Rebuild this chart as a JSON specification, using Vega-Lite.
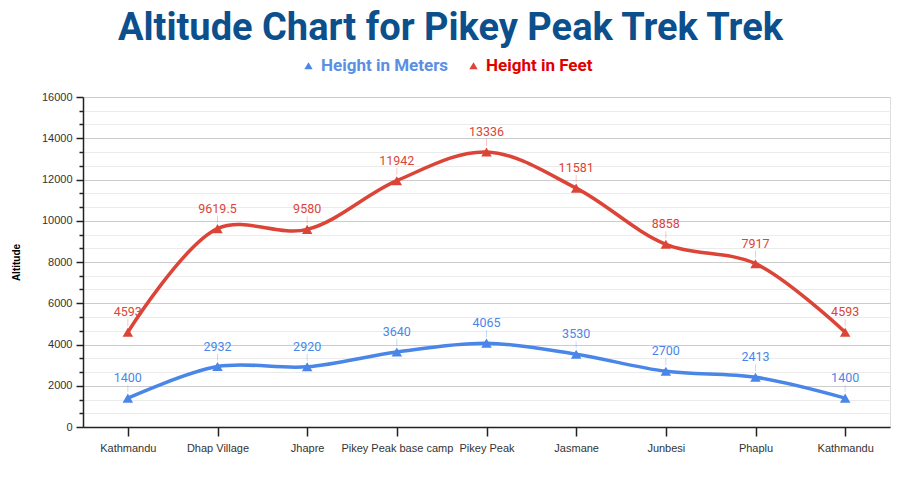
{
  "$schema": "https://vega.github.io/schema/vega-lite/v6.json",
  "autosize": {"type": "none"},
  "width": 807,
  "height": 330,
  "padding": {"left": 83, "top": 97, "right": 10, "bottom": 73},
  "background": "white",
  "title": {
    "text": "Altitude Chart for Pikey Peak Trek Trek",
    "font": "Roboto",
    "fontSize": 38,
    "fontWeight": "bold",
    "color": "#0b4f8c",
    "anchor": "middle",
    "dx": -36,
    "offset": 9
  },
  "data": {
    "values": [
      {"idx": 0, "place": "Kathmandu", "series": "Height in Meters", "value": 1400, "label": "1400"},
      {"idx": 1, "place": "Dhap Village", "series": "Height in Meters", "value": 2932, "label": "2932"},
      {"idx": 2, "place": "Jhapre", "series": "Height in Meters", "value": 2920, "label": "2920"},
      {"idx": 3, "place": "Pikey Peak base camp", "series": "Height in Meters", "value": 3640, "label": "3640"},
      {"idx": 4, "place": "Pikey Peak", "series": "Height in Meters", "value": 4065, "label": "4065"},
      {"idx": 5, "place": "Jasmane", "series": "Height in Meters", "value": 3530, "label": "3530"},
      {"idx": 6, "place": "Junbesi", "series": "Height in Meters", "value": 2700, "label": "2700"},
      {"idx": 7, "place": "Phaplu", "series": "Height in Meters", "value": 2413, "label": "2413"},
      {"idx": 8, "place": "Kathmandu", "series": "Height in Meters", "value": 1400, "label": "1400"},
      {"idx": 0, "place": "Kathmandu", "series": "Height in Feet", "value": 4593, "label": "4593"},
      {"idx": 1, "place": "Dhap Village", "series": "Height in Feet", "value": 9619.5, "label": "9619.5"},
      {"idx": 2, "place": "Jhapre", "series": "Height in Feet", "value": 9580, "label": "9580"},
      {"idx": 3, "place": "Pikey Peak base camp", "series": "Height in Feet", "value": 11942, "label": "11942"},
      {"idx": 4, "place": "Pikey Peak", "series": "Height in Feet", "value": 13336, "label": "13336"},
      {"idx": 5, "place": "Jasmane", "series": "Height in Feet", "value": 11581, "label": "11581"},
      {"idx": 6, "place": "Junbesi", "series": "Height in Feet", "value": 8858, "label": "8858"},
      {"idx": 7, "place": "Phaplu", "series": "Height in Feet", "value": 7917, "label": "7917"},
      {"idx": 8, "place": "Kathmandu", "series": "Height in Feet", "value": 4593, "label": "4593"}
    ]
  },
  "encoding": {
    "x": {
      "field": "idx",
      "type": "ordinal",
      "scale": {"type": "point", "padding": 0.5},
      "axis": {
        "title": null,
        "labelAngle": 0,
        "labelExpr": "['Kathmandu','Dhap Village','Jhapre','Pikey Peak base camp','Pikey Peak','Jasmane','Junbesi','Phaplu','Kathmandu'][datum.value]",
        "labelFont": "Liberation Sans",
        "labelFontSize": 11,
        "labelColor": "#333",
        "labelPadding": 6,
        "domainColor": "#222",
        "domainWidth": 1.5,
        "tickColor": "#222",
        "tickWidth": 1.5,
        "tickSize": 9,
        "grid": false
      }
    },
    "y": {
      "field": "value",
      "type": "quantitative",
      "scale": {"domain": [0, 16000], "nice": false},
      "axis": {
        "title": "Altitude",
        "titleFont": "Liberation Sans",
        "titleFontSize": 10,
        "titleFontWeight": "bold",
        "titleColor": "#000",
        "titlePadding": 20,
        "values": [0, 666.667, 1333.333, 2000, 2666.667, 3333.333, 4000, 4666.667, 5333.333, 6000, 6666.667, 7333.333, 8000, 8666.667, 9333.333, 10000, 10666.667, 11333.333, 12000, 12666.667, 13333.333, 14000, 14666.667, 15333.333, 16000],
        "labelExpr": "abs(datum.value % 2000) < 1 ? format(datum.value, 'd') : ''",
        "labelFont": "Liberation Sans",
        "labelFontSize": 11,
        "labelColor": "#333",
        "labelPadding": 4,
        "domainColor": "#222",
        "domainWidth": 1.5,
        "tickColor": "#222",
        "tickWidth": 1.5,
        "tickSize": {"condition": {"test": "abs(datum.value % 2000) < 1", "value": 7}, "value": 4},
        "grid": true,
        "gridColor": {"condition": {"test": "abs(datum.value % 2000) < 1", "value": "#cccccc"}, "value": "#ebebeb"},
        "gridWidth": 1.2
      }
    },
    "color": {
      "field": "series",
      "type": "nominal",
      "scale": {"domain": ["Height in Meters", "Height in Feet"], "range": ["#4a86e8", "#db4437"]},
      "legend": {
        "title": null,
        "orient": "none",
        "direction": "horizontal",
        "legendX": 217,
        "legendY": -40,
        "symbolType": "triangle-up",
        "symbolSize": 70,
        "symbolStrokeWidth": 0,
        "labelFont": "Roboto",
        "labelFontSize": 17,
        "labelFontWeight": "bold",
        "columnPadding": 16,
        "encode": {
          "labels": {"update": {"fill": {"signal": "datum.label === 'Height in Feet' ? '#e00000' : '#5b8fe4'"}}}
        }
      }
    }
  },
  "layer": [
    {
      "mark": {"type": "rule", "yOffset": -6, "y2Offset": -13, "strokeWidth": 0.6, "opacity": 0.5},
      "encoding": {"y2": {"field": "value"}}
    },
    {
      "mark": {"type": "line", "interpolate": "catmull-rom", "strokeWidth": 3.5}
    },
    {
      "mark": {"type": "point", "shape": "triangle-up", "filled": true, "size": 110, "opacity": 1}
    },
    {
      "mark": {"type": "text", "dy": -20, "font": "Roboto", "fontSize": 12.5},
      "encoding": {
        "text": {"field": "label"},
        "color": {
          "field": "series",
          "type": "nominal",
          "scale": {"domain": ["Height in Meters", "Height in Feet"], "range": ["#4a86e8", "#db4437"]},
          "legend": null
        }
      }
    }
  ]
}
